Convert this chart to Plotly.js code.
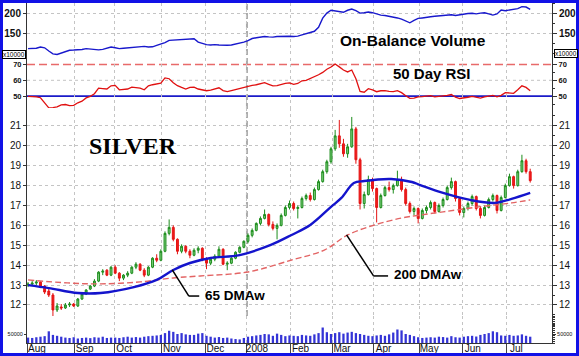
<!DOCTYPE html>
<html>
<head>
<meta charset="utf-8">
<script src="https://cdn.plot.ly/plotly-3.0.1.min.js"></script>
<style>
html,body{margin:0;padding:0;background:#fff;}
#chart{width:579px;height:356px;}
</style>
</head>
<body>
<div id="chart"></div>
<script>
// ---- Data ----
const dates = [
"2007-08-01","2007-08-03","2007-08-07","2007-08-09","2007-08-13","2007-08-15","2007-08-17","2007-08-21","2007-08-23","2007-08-27","2007-08-29","2007-08-31",
"2007-09-05","2007-09-07","2007-09-11","2007-09-13","2007-09-17","2007-09-19","2007-09-21","2007-09-25","2007-09-27",
"2007-10-01","2007-10-03","2007-10-05","2007-10-09","2007-10-11","2007-10-15","2007-10-17","2007-10-19","2007-10-23","2007-10-25","2007-10-29","2007-10-31",
"2007-11-02","2007-11-06","2007-11-08","2007-11-12","2007-11-14","2007-11-16","2007-11-20","2007-11-23","2007-11-27","2007-11-29",
"2007-12-03","2007-12-05","2007-12-07","2007-12-11","2007-12-13","2007-12-17","2007-12-19","2007-12-21","2007-12-26","2007-12-28",
"2008-01-02","2008-01-04","2008-01-08","2008-01-10","2008-01-14","2008-01-16","2008-01-18","2008-01-23","2008-01-25","2008-01-29","2008-01-31",
"2008-02-04","2008-02-06","2008-02-08","2008-02-12","2008-02-14","2008-02-19","2008-02-21","2008-02-25","2008-02-27","2008-02-29",
"2008-03-04","2008-03-06","2008-03-10","2008-03-12","2008-03-14","2008-03-18","2008-03-20","2008-03-25","2008-03-27","2008-03-31",
"2008-04-02","2008-04-04","2008-04-08","2008-04-10","2008-04-14","2008-04-16","2008-04-18","2008-04-22","2008-04-24","2008-04-28","2008-04-30",
"2008-05-02","2008-05-06","2008-05-08","2008-05-12","2008-05-14","2008-05-16","2008-05-20","2008-05-22","2008-05-27","2008-05-29",
"2008-06-02","2008-06-04","2008-06-06","2008-06-10","2008-06-12","2008-06-16","2008-06-18","2008-06-20","2008-06-24","2008-06-26","2008-06-30",
"2008-07-02","2008-07-07","2008-07-09","2008-07-11","2008-07-15","2008-07-17"];

const open = [
13.0,13.05,13.1,13.15,12.95,12.7,12.5,11.75,11.9,11.85,12.0,12.05,
11.95,12.3,12.55,12.8,12.95,13.2,13.65,13.75,13.5,
13.9,13.6,13.35,13.5,13.6,13.9,14.05,13.75,13.5,13.9,14.35,14.25,
14.7,15.6,15.9,15.3,14.7,14.95,14.7,14.5,14.75,14.85,
14.3,14.1,14.3,14.45,14.8,14.05,14.1,14.35,14.65,14.9,
15.2,15.5,15.75,16.1,16.35,16.55,16.05,15.85,16.0,16.5,16.9,
17.1,16.85,16.9,17.35,17.5,17.3,17.8,18.2,18.7,19.2,
19.85,20.5,20.1,19.6,19.95,20.85,19.3,17.1,17.55,18.3,
17.85,16.9,17.5,17.9,17.8,18.0,18.3,17.8,17.1,16.7,16.85,
16.35,16.75,16.9,17.15,16.7,17.0,17.3,17.9,18.2,17.35,
16.65,16.85,17.1,17.45,16.85,16.5,16.9,17.3,17.5,16.75,17.4,
18.0,18.45,18.0,18.7,19.25,18.7];

const high = [
13.15,13.2,13.25,13.2,13.0,12.9,12.6,12.1,12.05,12.1,12.15,12.1,
12.35,12.6,12.8,13.0,13.3,13.7,13.8,13.8,13.95,
14.0,13.65,13.55,13.7,13.95,14.15,14.1,13.85,13.95,14.4,14.55,14.8,
15.7,16.3,16.0,15.35,15.05,15.0,14.8,14.85,14.95,14.9,
14.4,14.4,14.55,14.95,14.85,14.2,14.4,14.7,14.95,15.25,
15.6,15.85,16.15,16.45,16.8,16.6,16.2,16.1,16.6,17.0,17.25,
17.2,17.0,17.45,17.6,17.65,17.9,18.3,18.8,19.3,19.95,
20.8,21.3,20.35,20.1,21.45,20.95,19.4,17.7,18.5,18.4,
17.9,17.6,18.0,18.2,18.1,18.75,18.45,17.9,17.2,16.95,16.9,
16.85,17.0,17.25,17.2,17.1,17.4,18.0,18.4,18.25,17.4,
16.95,17.2,17.55,17.5,16.95,17.0,17.4,17.6,17.55,17.5,18.1,
18.6,18.5,18.8,19.55,19.35,18.85];

const low = [
12.9,12.95,13.0,12.85,12.55,12.4,11.35,11.65,11.75,11.8,11.9,11.9,
11.9,12.25,12.5,12.75,12.9,13.15,13.5,13.45,13.45,
13.55,13.2,13.25,13.4,13.55,13.8,13.7,13.4,13.45,13.85,14.15,14.2,
14.65,15.5,15.2,14.55,14.6,14.6,14.35,14.45,14.6,14.2,
13.8,14.0,14.2,14.4,14.0,13.75,14.05,14.3,14.6,14.85,
15.1,15.4,15.7,16.0,16.3,15.95,15.75,15.3,15.95,16.45,16.8,
16.75,16.35,16.85,17.25,17.2,17.25,17.75,18.15,18.6,19.1,
19.75,19.9,19.45,19.4,19.9,19.1,16.8,16.85,17.5,17.7,
16.15,16.85,17.45,17.7,17.6,17.95,17.7,17.0,16.6,16.5,16.1,
16.3,16.6,16.8,16.6,16.65,16.9,17.25,17.8,17.2,16.5,
16.4,16.75,17.0,16.75,16.35,16.45,16.85,17.2,16.6,16.7,17.35,
17.95,17.85,17.95,18.65,18.6,18.15];

const close = [
13.05,13.1,13.15,12.95,12.65,12.5,11.75,11.95,11.85,12.0,12.05,11.95,
12.3,12.55,12.75,12.95,13.2,13.65,13.7,13.5,13.9,
13.6,13.35,13.5,13.6,13.9,14.05,13.75,13.5,13.9,14.35,14.25,14.7,
15.6,15.9,15.3,14.7,14.95,14.7,14.5,14.75,14.85,14.3,
14.1,14.3,14.45,14.8,14.05,14.1,14.35,14.65,14.9,15.2,
15.5,15.75,16.1,16.35,16.55,16.05,15.85,16.0,16.5,16.9,17.1,
16.85,16.9,17.35,17.5,17.3,17.8,18.2,18.7,19.2,19.85,
20.5,20.1,19.6,19.95,20.85,19.3,17.1,17.55,18.3,17.85,
16.9,17.5,17.9,17.8,18.0,18.3,17.8,17.1,16.7,16.85,16.35,
16.75,16.9,17.15,16.7,17.0,17.3,17.9,18.2,17.35,16.65,
16.85,17.1,17.45,16.85,16.5,16.9,17.3,17.5,16.75,17.4,18.0,
18.45,18.0,18.7,19.25,18.7,18.25];

const volume = [
30000,28000,32000,35000,38000,65000,45000,40000,35000,30000,28000,32000,
25000,28000,30000,27000,32000,30000,35000,28000,30000,
30000,28000,32000,35000,30000,33000,30000,35000,38000,40000,42000,45000,
55000,68000,62000,50000,55000,48000,45000,45000,52000,55000,
40000,35000,30000,33000,28000,30000,25000,22000,20000,28000,
35000,38000,42000,45000,50000,48000,40000,52000,45000,38000,42000,
40000,38000,45000,42000,40000,48000,55000,86000,60000,50000,
55000,60000,52000,58000,62000,55000,50000,45000,40000,38000,
42000,45000,40000,48000,58000,75000,70000,50000,45000,38000,32000,
28000,30000,32000,30000,35000,33000,30000,38000,32000,30000,
35000,38000,40000,36000,45000,50000,55000,65000,60000,42000,40000,
45000,40000,42000,48000,40000,35000];

const rsi = [
49.9,49.8,49.5,49.0,46.0,42.6,42.8,43.2,44.5,44.7,44.0,44.2,
45.8,46.8,48.9,49.9,51.5,55.0,54.8,54.5,56.5,
56.8,54.0,54.2,54.5,55.7,55.3,55.0,54.0,56.5,57.2,57.8,58.2,
61.5,61.0,58.5,56.6,55.5,54.5,55.5,55.7,54.5,54.0,
53.4,53.8,54.5,55.3,53.5,52.8,53.5,54.2,54.7,55.5,
56.5,56.8,57.2,57.8,58.5,57.5,56.5,56.6,57.5,58.0,58.4,
57.5,58.0,59.7,60.0,61.0,62.0,63.5,65.0,67.0,68.4,
70.3,68.5,66.5,65.3,66.5,61.0,53.0,52.5,54.7,54.0,
52.8,53.4,53.5,53.0,52.8,53.5,52.2,50.2,48.6,48.8,49.5,
49.7,50.2,50.3,49.5,49.7,50.2,50.5,51.0,49.3,48.5,
48.7,49.3,49.8,49.2,48.8,49.5,50.2,50.5,49.5,50.5,52.2,
52.0,51.8,54.0,56.5,55.5,53.4];

const obv = [
112,112.5,113,116,114,106,99,97.5,101,106,108,108.5,
109,110,112,111,110,109,110,113,116,
114,112,113,114,116,116.5,117,117.5,116,116.5,120,123,
127,132.5,133,133.5,134,135,136,136.5,128,124,
122,121,122,121,120,120.5,121,123,126,128,
132,137,139,140,142,141,140.5,142,142.5,143,142.5,
142,143,146,150,152,155,165,187.5,200,207,
205,203,202,207,210,206,200,201,202.5,201,
198,195,194,192,191,188,185,180,176,182,186.8,
188,190,190.8,192,193,194,195,196,194,196,
197,199,199.5,198,200,200.8,198,195,198,207.5,206,
207.5,208,211,216,215,209];

const dma65Dates = ["2007-08-01","2007-08-15","2007-09-05","2007-09-20","2007-10-12","2007-10-29","2007-11-08","2007-11-20","2007-12-05","2007-12-26","2008-01-17","2008-02-01","2008-02-14","2008-02-29","2008-03-07","2008-03-17","2008-03-25","2008-04-11","2008-04-25","2008-05-01","2008-05-16","2008-06-05","2008-06-23","2008-07-03","2008-07-17"];
const dma65 = [13.0,12.85,12.6,12.6,12.9,13.26,13.76,14.11,14.36,14.51,15.02,15.52,16.02,16.93,17.38,18.13,18.23,18.33,18.18,18.03,17.63,17.28,17.13,17.33,17.63];

const dma200Dates = ["2007-08-01","2007-08-28","2007-09-20","2007-10-17","2007-11-08","2007-11-28","2008-01-02","2008-02-01","2008-02-26","2008-03-12","2008-04-01","2008-04-18","2008-05-01","2008-05-16","2008-06-11","2008-07-03","2008-07-17"];
const dma200 = [13.26,13.11,13.06,13.16,13.36,13.46,13.66,14.26,14.77,15.52,16.02,16.37,16.52,16.68,16.93,17.13,17.28];

const monthTicks = ["2007-08-01","2007-09-04","2007-10-01","2007-11-01","2007-12-03","2008-01-02","2008-02-01","2008-03-03","2008-04-01","2008-05-01","2008-06-02","2008-07-01"];
const monthLabels = ["Aug","Sep","Oct","Nov","Dec","2008","Feb","Mar","Apr","May","Jun","Jul"];
const holidays = ["2007-09-03","2007-11-22","2007-12-25","2008-01-01","2008-01-21","2008-02-18","2008-03-21","2008-05-26","2008-07-04"];

const priceTicks = [12,13,14,15,16,17,18,19,20,21];
const obvTicks = [150,200];
const rsiTicks = [50,60,70];
const rsiLevels = {upper:70, mid:60, lower:50};
const volTicks = [50000];
const volLabels = ["50000"];

// ---- Chart ----
const DAY = 86400000;
const F = "Liberation Sans, Arial, sans-serif";
const per = {xperiod: DAY, xperiodalignment: 'middle'};

const traces = [
  Object.assign({type:'bar', x:dates, y:volume, xaxis:'x', yaxis:'y2', width:DAY*1.1,
    marker:{color:'#3434d6', line:{width:0}}, hoverinfo:'skip', showlegend:false}, per),
  Object.assign({type:'scatter', mode:'lines', x:dma200Dates, y:dma200, xaxis:'x', yaxis:'y',
    line:{color:'#e36464', width:1.4, dash:'6px,3px', shape:'spline', smoothing:1}, hoverinfo:'skip', showlegend:false}, per),
  Object.assign({type:'candlestick', x:dates, open:open, high:high, low:low, close:close, xaxis:'x', yaxis:'y',
    increasing:{line:{color:'#1c8c1c', width:1}, fillcolor:'#7fcf7f'},
    decreasing:{line:{color:'#e41414', width:1}, fillcolor:'#f01c1c'},
    whiskerwidth:0, hoverinfo:'skip', showlegend:false}, per),
  Object.assign({type:'scatter', mode:'lines', x:dma65Dates, y:dma65, xaxis:'x', yaxis:'y',
    line:{color:'#1414cc', width:2.4, shape:'spline', smoothing:1}, hoverinfo:'skip', showlegend:false}, per),
  Object.assign({type:'scatter', mode:'lines', x:dates, y:rsi, xaxis:'x', yaxis:'y3',
    line:{color:'#e01010', width:1.3}, hoverinfo:'skip', showlegend:false}, per),
  Object.assign({type:'scatter', mode:'lines', x:dates, y:obv, xaxis:'x', yaxis:'y4',
    line:{color:'#1818cc', width:1.4}, hoverinfo:'skip', showlegend:false}, per)
];
// dummy traces so right-hand duplicate axes get drawn
['y5','y6','y7','y8'].forEach(a => traces.push({type:'scatter', mode:'lines', x:[dates[0]], y:[null], xaxis:'x', yaxis:a, hoverinfo:'skip', showlegend:false}));

const H = 340, W = 525;
function dom(top, bottom){ return [(343-bottom)/H, (343-top)/H]; }

function yax(o){
  return Object.assign({
    anchor:'x', showline:true, linecolor:'#333', linewidth:1, zeroline:false,
    ticks:'outside', ticklen:3, tickcolor:'#333', tickmode:'array',
    showgrid:false, gridcolor:'#c4c4c4', griddash:'dot', gridwidth:1, fixedrange:true
  }, o);
}

const priceFont = {family:F, size:10, color:'#111'};
const obvFont = {family:F, size:10, color:'#111', weight:'bold'};
const rsiFont = {family:F, size:7.5, color:'#111', weight:'bold'};
const volFont = {family:F, size:5.5, color:'#111'};

const priceRange = [10.09, 21.9], volRange = [0, 150000], rsiRange = [42.5, 74.1], obvRange = [90, 225];

const layout = {
  width:579, height:356, autosize:false,
  margin:{l:27, r:27, t:3, b:13, pad:0},
  paper_bgcolor:'#fff', plot_bgcolor:'#fff',
  showlegend:false, hovermode:false, dragmode:false,
  boxgap:0.35,
  xaxis:{
    type:'date', range:['2007-08-01','2008-08-01'], anchor:'y',
    rangebreaks:[{bounds:['sat','mon']},{values:holidays, dvalue:DAY}],
    tickmode:'array', tickvals:monthTicks, ticktext:monthLabels,
    ticks:'outside', ticklen:10, tickcolor:'#444', tickwidth:1,
    ticklabelshift:10, ticklabelstandoff:-14,
    tickfont:{family:F, size:10, color:'#111'},
    showgrid:true, gridcolor:'#c4c4c4', griddash:'dot', gridwidth:1,
    showline:true, linecolor:'#333', linewidth:1, zeroline:false, fixedrange:true,
    rangeslider:{visible:false}
  },
  yaxis: yax({domain:dom(108,343), range:priceRange, tickvals:priceTicks, tickfont:priceFont, side:'left', showgrid:true}),
  yaxis2: yax({domain:dom(316,343), range:volRange, tickvals:volTicks, ticktext:volLabels, tickfont:volFont, side:'left', showline:false, ticklen:2}),
  yaxis3: yax({domain:dom(58,108), range:rsiRange, tickvals:rsiTicks, tickfont:rsiFont, side:'left', showgrid:false}),
  yaxis4: yax({domain:dom(3,57.5), range:obvRange, tickvals:obvTicks, tickfont:obvFont, side:'left', showgrid:true}),
  yaxis5: yax({overlaying:'y', side:'right', range:priceRange, tickvals:priceTicks, tickfont:priceFont, ticklen:4,
    minor:{tickmode:'linear', tick0:10, dtick:0.5, ticks:'outside', ticklen:2, tickcolor:'#333', showgrid:false}}),
  yaxis6: yax({overlaying:'y2', side:'right', range:volRange, tickvals:volTicks, ticktext:volLabels, tickfont:volFont, showline:false, ticklen:3,
    minor:{tickmode:'linear', tick0:0, dtick:10000, ticks:'outside', ticklen:2, tickcolor:'#333', showgrid:false}}),
  yaxis7: yax({overlaying:'y3', side:'right', range:rsiRange, tickvals:rsiTicks, tickfont:rsiFont, ticklen:4,
    minor:{tickmode:'linear', tick0:40, dtick:5, ticks:'outside', ticklen:2, tickcolor:'#333', showgrid:false}}),
  yaxis8: yax({overlaying:'y4', side:'right', range:obvRange, tickvals:obvTicks, tickfont:obvFont, ticklen:4,
    minor:{tickmode:'linear', tick0:0, dtick:25, ticks:'outside', ticklen:2, tickcolor:'#333', showgrid:false}}),
  shapes:[
    // RSI reference levels
    {type:'line', xref:'paper', x0:0, x1:1, yref:'y3', y0:rsiLevels.mid, y1:rsiLevels.mid, line:{color:'#c4c4c4', width:1, dash:'dot'}, layer:'below'},
    {type:'line', xref:'paper', x0:0, x1:1, yref:'y3', y0:rsiLevels.upper, y1:rsiLevels.upper, line:{color:'#e86a6a', width:1.5, dash:'8px,4px'}, layer:'below'},
    {type:'line', xref:'paper', x0:0, x1:1, yref:'y3', y0:rsiLevels.lower, y1:rsiLevels.lower, line:{color:'#1a1ac8', width:1.6}, layer:'below'},
    // year divider
    {type:'line', xref:'x', x0:'2008-01-02', x1:'2008-01-02', yref:'paper', y0:0, y1:1, line:{color:'#ababab', width:2, dash:'6px,3px'}, layer:'below'},
    // leader lines
    {type:'line', xref:'x', yref:'y', x0:'2007-11-08', y0:13.76, x1:'2007-11-20', y1:12.45, line:{color:'#000', width:1.5}},
    {type:'line', xref:'x', yref:'y', x0:'2007-11-20', y0:12.45, x1:'2007-11-28', y1:12.45, line:{color:'#000', width:1.5}},
    {type:'line', xref:'x', yref:'y', x0:'2008-03-12', y0:15.52, x1:'2008-04-01', y1:13.46, line:{color:'#000', width:1.5}},
    {type:'line', xref:'x', yref:'y', x0:'2008-04-01', y0:13.46, x1:'2008-04-10', y1:13.46, line:{color:'#000', width:1.5}},
    // blue frame
    {type:'rect', xref:'paper', yref:'paper', x0:-25.5/W, x1:1+25.5/W, y0:-11.5/H, y1:1+1.5/H, line:{color:'#1212e6', width:3}, fillcolor:'rgba(0,0,0,0)'}
  ],
  annotations:[
    {xref:'x', yref:'y', x:'2007-10-12', y:20.0, text:'SILVER', showarrow:false, xanchor:'center', yanchor:'middle',
      font:{family:'Liberation Serif, Times New Roman, serif', size:24, color:'#000', weight:'bold'}},
    {xref:'x', yref:'y4', x:'2008-04-28', y:132.5, text:'On-Balance Volume', showarrow:false, xanchor:'center', yanchor:'middle',
      font:{family:F, size:15.5, color:'#000', weight:'bold'}},
    {xref:'x', yref:'y3', x:'2008-05-09', y:64.5, text:'50 Day RSI', showarrow:false, xanchor:'center', yanchor:'middle',
      font:{family:F, size:15, color:'#000', weight:'bold'}},
    {xref:'x', yref:'y', x:'2007-11-30', y:12.5, text:'65 DMAw', showarrow:false, xanchor:'left', yanchor:'middle',
      font:{family:F, size:13.5, color:'#000', weight:'bold'}},
    {xref:'x', yref:'y', x:'2008-04-14', y:13.51, text:'200 DMAw', showarrow:false, xanchor:'left', yanchor:'middle',
      font:{family:F, size:13.5, color:'#000', weight:'bold'}},
    {xref:'paper', yref:'paper', x:0, y:(343-54.5)/H, xanchor:'right', yanchor:'middle', xshift:-1, text:'x10000', showarrow:false,
      font:{family:F, size:6.5, color:'#000'}, bordercolor:'#000', borderwidth:1, borderpad:0, bgcolor:'#fff'},
    {xref:'paper', yref:'paper', x:1, y:(343-53.5)/H, xanchor:'left', yanchor:'middle', xshift:2, text:'x10000', showarrow:false,
      font:{family:F, size:6.5, color:'#000'}, bordercolor:'#000', borderwidth:1, borderpad:0, bgcolor:'#fff'}
  ]
};

Plotly.newPlot('chart', traces, layout, {staticPlot:true, displayModeBar:false});
</script>
</body>
</html>
